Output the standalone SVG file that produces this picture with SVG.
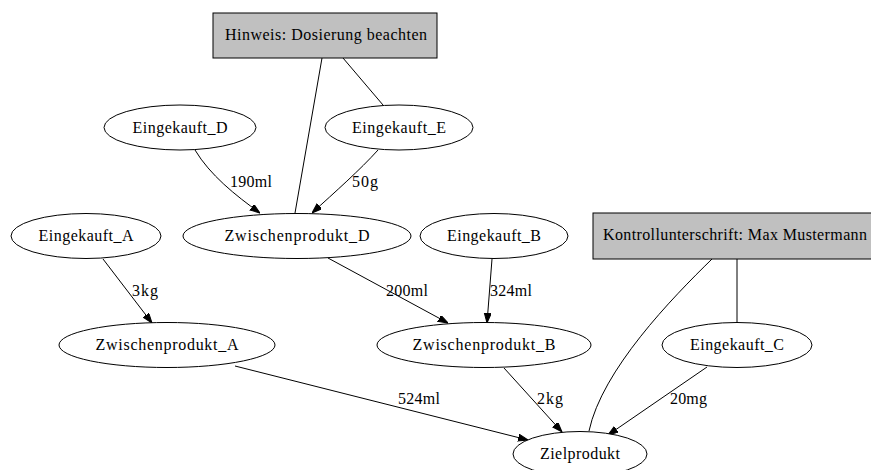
<svg xmlns="http://www.w3.org/2000/svg" width="871" height="470" viewBox="0 0 871 470">
<style>
.n ellipse{fill:#fff;stroke:#000;stroke-width:1}
.n rect{fill:#c0c0c0;stroke:#000;stroke-width:1}
text{font-family:'Liberation Serif','DejaVu Serif','Times New Roman',serif;font-size:16px;fill:#000}
.c{text-anchor:middle}
.e path{fill:none;stroke:#000;stroke-width:1}
</style>
<defs>
<marker id="ah" markerWidth="10" markerHeight="8" refX="10" refY="3.5" orient="auto" markerUnits="userSpaceOnUse">
<path d="M0,0 L10,3.5 L0,7 z" fill="#000" stroke="#000"/>
</marker>
</defs>
<rect width="871" height="470" fill="#fff"/>
<g id="edges" class="e">
<path d="M322,58 L295,213"/>
<path d="M343,58 L383,105"/>
<path d="M195,150 C210,175 235,195 260,213" marker-end="url(#ah)"/>
<path d="M378,150 C360,170 335,192 312,213" marker-end="url(#ah)"/>
<path d="M103,259 L152,323" marker-end="url(#ah)"/>
<path d="M328,258 L448,323" marker-end="url(#ah)"/>
<path d="M492,259 L487,323" marker-end="url(#ah)"/>
<path d="M235,366 L528,440" marker-end="url(#ah)"/>
<path d="M504,368 L562,432" marker-end="url(#ah)"/>
<path d="M707,367 L608,435" marker-end="url(#ah)"/>
<path d="M712,259 C672,298 602,370 589,431"/>
<path d="M737,259 L737,322"/>
<text x="230" y="187" textLength="42">190ml</text>
<text x="352" y="187" textLength="26">50g</text>
<text x="132" y="296" textLength="26">3kg</text>
<text x="386" y="296" textLength="42">200ml</text>
<text x="490" y="296" textLength="42">324ml</text>
<text x="398" y="404" textLength="42">524ml</text>
<text x="537" y="404" textLength="26">2kg</text>
<text x="670" y="404" textLength="37">20mg</text>
</g>
<g id="hinweis" class="n"><rect x="213" y="13" width="224" height="45"/><text class="c" x="326" y="40" textLength="202">Hinweis: Dosierung beachten</text></g>
<g id="kontroll" class="n"><rect x="593" y="213" width="290" height="46"/><text x="603" y="240" textLength="264">Kontrollunterschrift: Max Mustermann</text></g>
<g id="eingekauft_d" class="n"><ellipse cx="180" cy="127.5" rx="76" ry="22.5"/><text class="c" x="180" y="133" textLength="95">Eingekauft_D</text></g>
<g id="eingekauft_e" class="n"><ellipse cx="399" cy="127.5" rx="74" ry="22.5"/><text class="c" x="399" y="133" textLength="94">Eingekauft_E</text></g>
<g id="eingekauft_a" class="n"><ellipse cx="86" cy="236" rx="75" ry="22.5"/><text class="c" x="86" y="241" textLength="95">Eingekauft_A</text></g>
<g id="zwischenprodukt_d" class="n"><ellipse cx="297" cy="236" rx="114" ry="22.5"/><text class="c" x="297" y="241" textLength="145">Zwischenprodukt_D</text></g>
<g id="eingekauft_b" class="n"><ellipse cx="494" cy="236" rx="74" ry="22.5"/><text class="c" x="494" y="241" textLength="94">Eingekauft_B</text></g>
<g id="zwischenprodukt_a" class="n"><ellipse cx="167" cy="345" rx="108" ry="22.5"/><text class="c" x="167" y="350" textLength="143">Zwischenprodukt_A</text></g>
<g id="zwischenprodukt_b" class="n"><ellipse cx="484" cy="345" rx="107" ry="22.5"/><text class="c" x="484" y="350" textLength="143">Zwischenprodukt_B</text></g>
<g id="eingekauft_c" class="n"><ellipse cx="737" cy="345" rx="75" ry="22.5"/><text class="c" x="737" y="350" textLength="94">Eingekauft_C</text></g>
<g id="zielprodukt" class="n"><ellipse cx="580" cy="454" rx="67" ry="22.5"/><text class="c" x="580" y="459" textLength="80">Zielprodukt</text></g>
</svg>
